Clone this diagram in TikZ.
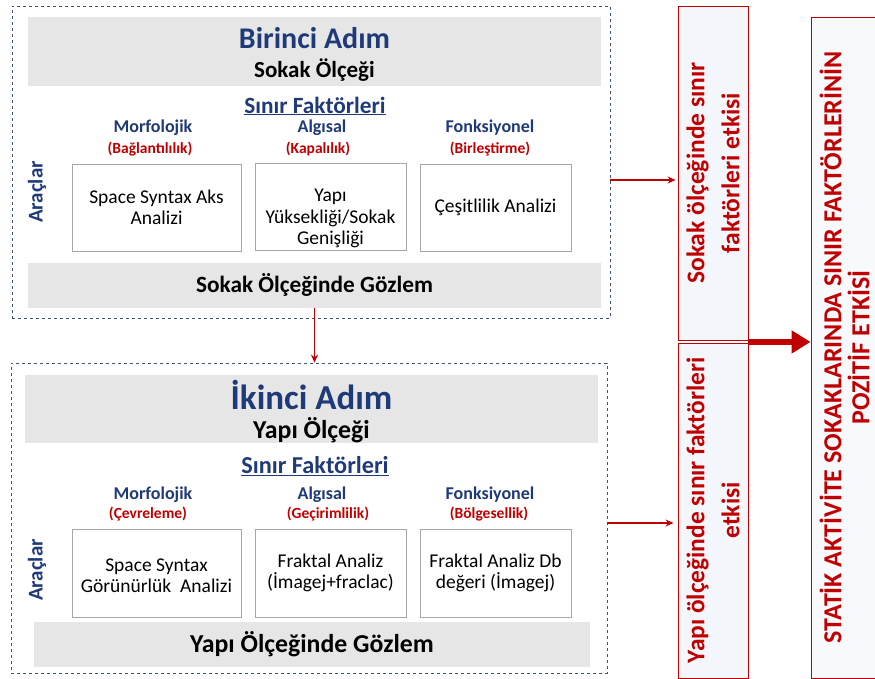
\documentclass[tikz,border=0pt]{standalone}
\usepackage{fontspec}
\setmainfont{Carlito}
\usetikzlibrary{arrows.meta}
\definecolor{navy}{HTML}{1F3A78}
\definecolor{redc}{HTML}{C00000}
\definecolor{bandgray}{HTML}{E6E6E6}
\definecolor{boxline}{HTML}{A6A6A6}
\definecolor{dashc}{HTML}{44546A}
\definecolor{paleblue}{HTML}{F3F6FB}
\definecolor{paler}{HTML}{F8F9FC}
\tikzset{
  panel/.style={draw=dashc, dashed, line width=0.8pt, inner sep=0pt},
  band/.style={fill=bandgray, inner sep=0pt},
  boxfont/.style={align=center, font=\fontsize{19.5}{21.5}\selectfont},
  toolbox/.style={draw=boxline, line width=1pt, fill=white, inner sep=0pt, minimum height=87pt, boxfont},
  factor/.style={font=\fontsize{18}{21}\selectfont\bfseries, text=navy},
  subfactor/.style={font=\fontsize{15.5}{18}\selectfont\bfseries, text=redc},
  tools/.style={font=\fontsize{21}{24}\selectfont\bfseries, text=navy, rotate=90},
  effectbox/.style={draw=redc, line width=0.9pt, fill=paleblue, inner sep=0pt},
  effecttext/.style={rotate=90, align=center, text=redc},
  arr/.style={draw=redc, line width=1.2pt, -{Stealth[length=8pt,width=7pt]}},
  bigarr/.style={draw=redc, line width=6pt, -{Triangle[length=19pt,width=22pt]}}
}
\begin{document}
\begin{tikzpicture}[x=1pt,y=-1pt]
\useasboundingbox (0,0) rectangle (875,678);

% ---- first step: street scale
\node[panel, minimum width=598pt, minimum height=312pt] (panel1) at (311,162) {};
\node[band, minimum width=573pt, minimum height=69pt] (head1) at (314.5,51.5) {};
\node[font=\fontsize{30}{34}\selectfont\bfseries, text=navy] (title1) at (314.5,38) {Birinci Adım};
\node[font=\fontsize{23}{26}\selectfont\bfseries] (scale1) at (314.5,70) {Sokak Ölçeği};
\node[font=\fontsize{23.3}{26}\selectfont\bfseries, text=navy] (sf1) at (315,106) {\underline{Sınır Faktörleri}};
\node[factor] (m1) at (153,128) {Morfolojik};
\node[factor] (a1) at (322,128) {Algısal};
\node[factor] (f1) at (490,128) {Fonksiyonel};
\node[subfactor] (mr1) at (150,149) {(Bağlantılılık)};
\node[subfactor] (ar1) at (318,149) {(Kapalılık)};
\node[subfactor] (fr1) at (490,149) {(Birleştirme)};
\node[tools] (tools1) at (37,192) {Araçlar};
\node[toolbox, minimum width=169pt] (b11) at (156.5,207.5) {Space Syntax Aks\\Analizi};
\node[toolbox, minimum width=151pt] (b12) at (330.5,206.5) {};
\node[boxfont] (b12t) at ([yshift=-12pt]b12.center) {Yapı\\Yüksekliği/Sokak\\Genişliği};
\node[toolbox, minimum width=151pt] (b13) at (495.5,207.5) {Çeşitlilik Analizi};
\node[band, minimum width=573pt, minimum height=45pt, font=\fontsize{23.3}{26}\selectfont\bfseries] (obs1) at (314.5,285) {Sokak Ölçeğinde Gözlem};

% ---- second step: building scale
\node[panel, minimum width=596pt, minimum height=310pt] (panel2) at (309,518) {};
\node[band, minimum width=573pt, minimum height=68pt] (head2) at (311.5,409) {};
\node[font=\fontsize{35}{39}\selectfont\bfseries, text=navy] (title2) at (311.5,395) {İkinci Adım};
\node[font=\fontsize{25.8}{29}\selectfont\bfseries] (scale2) at (311.5,430) {Yapı Ölçeği};
\node[font=\fontsize{24.3}{28}\selectfont\bfseries, text=navy] (sf2) at (315,466) {\underline{Sınır Faktörleri}};
\node[factor] (m2) at (153,495) {Morfolojik};
\node[factor] (a2) at (322,495) {Algısal};
\node[factor] (f2) at (490,495) {Fonksiyonel};
\node[subfactor] (mr2) at (148,514) {(Çevreleme)};
\node[subfactor] (ar2) at (328,514) {(Geçirimlilik)};
\node[subfactor] (fr2) at (489,514) {(Bölgesellik)};
\node[tools] (tools2) at (37,570) {Araçlar};
\node[toolbox, minimum width=169pt, minimum height=88pt] (b21) at (156.5,573) {};
\node[boxfont] (b21t) at ([yshift=-2.5pt]b21.center) {Space Syntax\\Görünürlük~ Analizi};
\node[toolbox, minimum width=151pt, minimum height=88pt] (b22) at (330.5,573) {Fraktal Analiz\\(İmagej+fraclac)};
\node[toolbox, minimum width=151pt, minimum height=88pt] (b23) at (495.5,573) {Fraktal Analiz Db\\değeri (İmagej)};
\node[band, minimum width=556pt, minimum height=45pt, font=\fontsize{25.8}{29}\selectfont\bfseries] (obs2) at (312,644.5) {Yapı Ölçeğinde Gözlem};

% ---- effect boxes
\node[effectbox, minimum width=70pt, minimum height=334pt] (effA) at (713,173) {};
\node[effecttext, font=\fontsize{25.5}{35}\selectfont\bfseries] (effAt) at (effA.center) {Sokak ölçeğinde sınır\\faktörleri etkisi};
\node[effectbox, minimum width=70pt, minimum height=335pt] (effB) at (713,510.5) {};
\node[effecttext, font=\fontsize{25.4}{35}\selectfont\bfseries] (effBt) at (effB.center) {Yapı ölçeğinde sınır faktörleri\\etkisi};
\node[effectbox, fill=paler, minimum width=72pt, minimum height=661pt] (effC) at (847,347.5) {};
\node[effecttext, font=\fontsize{26}{28}\selectfont\bfseries] (effCt) at ([xshift=-2.5pt]effC.center) {STATİK AKTİVİTE SOKAKLARINDA SINIR FAKTÖRLERİNİN\\POZİTİF ETKİSİ};

% ---- connectors
\draw[arr] (obs1.south) -- (obs1.south |- panel2.north);
\draw[arr, shorten >=2pt] ([yshift=-18pt]panel1.east) -- ([yshift=-18pt]panel1.east -| effA.west);
\draw[arr, shorten >=4pt] ([yshift=-5pt]panel2.east) -- ([yshift=-5pt]panel2.east -| effB.west);
\draw[bigarr] ([yshift=-1.5pt]effA.south east) -- ([yshift=-1.5pt]effA.south east -| effC.west);
\end{tikzpicture}
\end{document}
